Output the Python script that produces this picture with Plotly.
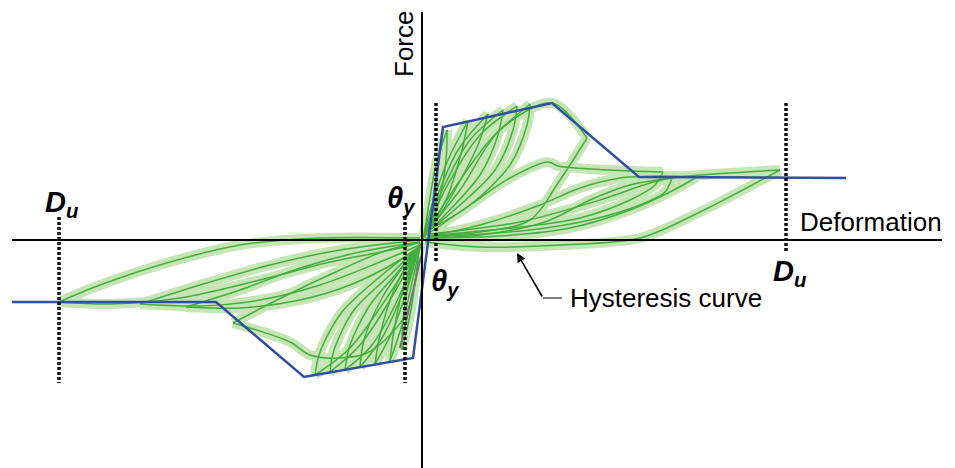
import plotly.graph_objects as go

# ---------------- data (deformation x, force y; arbitrary units) ----------------
backbone_x = [-410, -206, -118, -9, 21, 130, 217, 424]
backbone_y = [-62, -62, -137, -118, 113, 137, 63, 62]

# Each hysteresis branch: (x list, y list)
branch_x = [
    # positive small cycles (loading / unloading)
    [1, 6, 14, 25], [25, 24, 16, 6],
    [1, 10, 26, 46], [46, 40, 26, 8],
    [2, 14, 36, 66], [66, 56, 33, 10],
    [2, 18, 48, 81], [81, 76, 58, 23, 6],
    [3, 23, 58, 95], [95, 91, 73, 38, 8],
    [3, 28, 68, 108], [108, 105, 88, 48, 10],
    [3, 38, 78, 130, 165], [165, 138, 108, 58, 8],
    # positive large cycles
    [3, 48, 88, 126, 136, 188, 241], [241, 233, 208, 158, 108, 48, 6],
    [8, 98, 178, 228, 250], [250, 243, 218, 168, 108, 8],
    [8, 78, 148, 208, 248, 275], [275, 238, 198, 158, 118, 58, 8],
    [3, 58, 138, 218, 278, 358], [358, 308, 258, 208, 168, 123, 58, 3],
    # negative small cycles
    [-2, -6, -12, -20], [-20, -19, -13, -4],
    [-1, -9, -20, -32], [-32, -28, -18, -6],
    [-2, -12, -30, -47], [-47, -42, -28, -8],
    [-2, -16, -40, -62], [-62, -58, -40, -20, -5],
    [-3, -20, -50, -77], [-77, -72, -52, -25, -6],
    [-3, -25, -62, -92], [-92, -88, -68, -32, -8],
    [-3, -30, -72, -107], [-107, -102, -80, -40, -8],
    # negative swoop
    [-2, -40, -82, -139, -189], [-189, -132, -112, -82, -55, -32, -15, -3],
    # negative large cycles
    [-363, -322, -252, -182, -102, -2], [-363, -312, -242, -162, -92, -22, -2],
    [-282, -222, -152, -82, -2], [-282, -222, -162, -102, -42, -2],
    [-236, -182, -122, -62, -2], [-236, -182, -122, -72, -22, 0],
]
branch_y = [
    [0, 30, 75, 110], [110, 80, 35, 8],
    [2, 35, 80, 119], [119, 90, 45, 10],
    [2, 40, 90, 126], [126, 95, 50, 12],
    [4, 45, 100, 130], [130, 105, 65, 25, 8],
    [4, 50, 105, 134], [134, 110, 70, 35, 10],
    [5, 45, 100, 136], [136, 115, 75, 35, 12],
    [6, 50, 110, 137, 102], [102, 60, 20, 8, 4],
    [4, 35, 62, 78, 74, 70, 68], [68, 55, 40, 22, 14, 8, 4],
    [6, 18, 40, 57, 62], [62, 48, 35, 20, 10, 3],
    [2, 4, 12, 30, 48, 63], [63, 64, 62, 52, 35, 15, 4],
    [-2, -7, -5, 2, 28, 70], [70, 67, 63, 55, 40, 18, 5, 2],
    [-2, -35, -75, -110], [-110, -80, -40, -8],
    [-3, -38, -85, -121], [-121, -90, -45, -10],
    [-3, -40, -92, -124], [-124, -95, -50, -12],
    [-4, -45, -98, -127], [-127, -100, -58, -28, -8],
    [-4, -50, -105, -130], [-130, -105, -65, -33, -10],
    [-5, -48, -105, -132], [-132, -110, -70, -35, -11],
    [-6, -50, -108, -135], [-135, -112, -72, -35, -10],
    [-2, -12, -30, -57, -83], [-83, -102, -115, -118, -113, -95, -72, -20],
    [-62, -45, -22, -5, 2, 2], [-62, -64, -58, -40, -22, -8, -2],
    [-64, -45, -25, -10, 0], [-64, -66, -60, -45, -22, -5],
    [-67, -50, -28, -12, -2], [-67, -68, -60, -45, -20, -5],
]

du_x = [-363, 364]          # ultimate deformation marks
theta_x = [-17, 14]         # yield rotation marks
mark_top = [23, 137]
mark_bottom = [-143, -22]
du_bottom = [-143, -12]

grey_x = [-22, -1]
grey_y = [-108, -16]

# ---------------- figure ----------------
FONT = "Liberation Sans, Arial, Helvetica, sans-serif"
fig = go.Figure()

hx, hy = [], []
for bx, by in zip(branch_x, branch_y):
    hx += bx + [None]
    hy += by + [None]

fig.add_trace(go.Scatter(x=hx, y=hy, mode="lines", line=dict(color="#c6e5b4", width=10, shape="spline", smoothing=0.9),
                         connectgaps=False, hoverinfo="skip"))
fig.add_trace(go.Scatter(x=hx, y=hy, mode="lines", line=dict(color="#45ad40", width=1.5, shape="spline", smoothing=0.9),
                         connectgaps=False, hoverinfo="skip"))

fig.add_trace(go.Scatter(x=grey_x, y=grey_y, mode="lines", line=dict(color="#777777", width=2), hoverinfo="skip"))

fig.add_trace(go.Scatter(x=backbone_x, y=backbone_y, mode="lines", line=dict(color="#2f4fa6", width=2.5), hoverinfo="skip"))

# axes
fig.add_trace(go.Scatter(x=[-410, 520], y=[0, 0], mode="lines", line=dict(color="black", width=2), hoverinfo="skip"))
fig.add_trace(go.Scatter(x=[0, 0], y=[228, -232], mode="lines", line=dict(color="black", width=2), hoverinfo="skip"))

# dotted marks
dots = dict(color="#111111", width=3.5, dash="3px,2px")
fig.add_trace(go.Scatter(x=[du_x[0], du_x[0]], y=[mark_top[0], du_bottom[0]], mode="lines", line=dots, hoverinfo="skip"))
fig.add_trace(go.Scatter(x=[du_x[1], du_x[1]], y=[mark_top[1], du_bottom[1]], mode="lines", line=dots, hoverinfo="skip"))
fig.add_trace(go.Scatter(x=[theta_x[0], theta_x[0]], y=[mark_top[0], mark_bottom[0]], mode="lines", line=dots, hoverinfo="skip"))
fig.add_trace(go.Scatter(x=[theta_x[1], theta_x[1]], y=[mark_top[1], mark_bottom[1]], mode="lines", line=dots, hoverinfo="skip"))

# leader line
fig.add_trace(go.Scatter(x=[121, 140], y=[-58, -58], mode="lines", line=dict(color="#555555", width=1.5), hoverinfo="skip"))

ann = []
def label(x, y, text, size=26, xanchor="center", yanchor="middle", angle=0):
    ann.append(dict(x=x, y=y, xref="x", yref="y", text=text, showarrow=False, xanchor=xanchor, yanchor=yanchor,
                    textangle=angle, font=dict(family=FONT, size=size, color="black")))

label(-18, 196, "Force", angle=-90)
label(449, 18, "Deformation")
label(146, -58, "Hysteresis curve", xanchor="left")
label(-360, 36, "<b><i>D<sub>u</sub></i></b>", size=29)
label(368, -33, "<b><i>D<sub>u</sub></i></b>", size=29)
label(-21, 40, "<b><i>θ<sub>y</sub></i></b>", size=29)
label(23, -43, "<b><i>θ<sub>y</sub></i></b>", size=29)

ann.append(dict(x=95, y=-13, xref="x", yref="y", ax=121, ay=-58, axref="x", ayref="y", text="",
                showarrow=True, arrowhead=2, arrowsize=1.2, arrowwidth=1.5, arrowcolor="black"))

# page body has an 8px default margin: size the figure to fit the 955x468 window
fig.update_layout(
    width=947, height=460, margin=dict(l=0, r=0, t=0, b=0),
    paper_bgcolor="white", plot_bgcolor="white", showlegend=False,
    xaxis=dict(range=[-414, 533], visible=False, fixedrange=True),
    yaxis=dict(range=[-228, 232], visible=False, fixedrange=True),
    annotations=ann,
)

fig.write_html("out.html")
